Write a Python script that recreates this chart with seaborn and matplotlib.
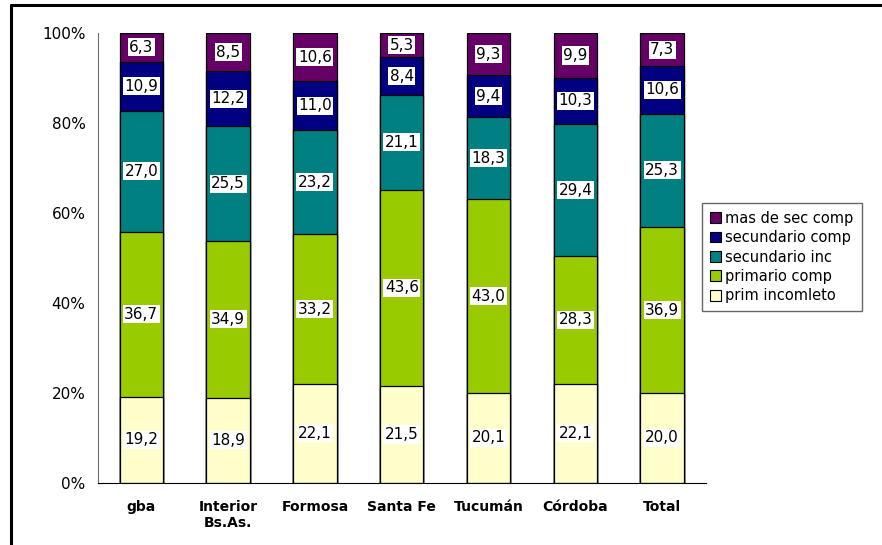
import matplotlib
matplotlib.use("Agg")
import matplotlib.pyplot as plt
import numpy as np
import pandas as pd
import seaborn as sns
from matplotlib.lines import Line2D
from matplotlib.patches import Patch

regions = ["gba", "Interior\nBs.As.", "Formosa", "Santa Fe", "Tucumán", "Córdoba", "Total"]
levels = ["prim incomleto", "primario comp", "secundario inc", "secundario comp", "mas de sec comp"]
colors = ["#FFFFCC", "#99CC00", "#008080", "#000080", "#660066"]

prim_incompleto = [19.2, 18.9, 22.1, 21.5, 20.1, 22.1, 20.0]
primario_comp = [36.7, 34.9, 33.2, 43.6, 43.0, 28.3, 36.9]
secundario_inc = [27.0, 25.5, 23.2, 21.1, 18.3, 29.4, 25.3]
secundario_comp = [10.9, 12.2, 11.0, 8.4, 9.4, 10.3, 10.6]
mas_de_sec = [6.3, 8.5, 10.6, 5.3, 9.3, 9.9, 7.3]

values = np.array([prim_incompleto, primario_comp, secundario_inc, secundario_comp, mas_de_sec])
shares = values / values.sum(axis=0) * 100
tops = shares.cumsum(axis=0)
bottoms = tops - shares

sns.set_style("white")
plt.rcParams["font.family"] = ["DejaVu Sans"]
plt.rcParams["text.color"] = "black"
plt.rcParams["xtick.color"] = "black"
plt.rcParams["ytick.color"] = "black"

fig = plt.figure(figsize=(8.82, 5.45), dpi=100)
ax = fig.add_axes([0.111, 0.114, 0.689, 0.825])

# draw from the top layer down so each lower segment covers the one above
for i in reversed(range(len(levels))):
    df = pd.DataFrame({"region": regions, "top": tops[i]})
    sns.barplot(data=df, x="region", y="top", color=colors[i], saturation=1,
                width=0.5, edgecolor="black", linewidth=0.9, ax=ax, errorbar=None)

for i in range(len(levels)):
    for j in range(len(regions)):
        ax.text(j, (bottoms[i, j] + tops[i, j]) / 2, f"{values[i, j]:.1f}".replace(".", ","),
                ha="center", va="center", fontsize=11, color="black",
                bbox=dict(boxstyle="square,pad=0.1", fc="white", ec="none"))

ax.set_xlim(-0.5, len(regions) - 0.5)
ax.set_ylim(0, 100)
ax.set_yticks(range(0, 101, 20))
ax.set_yticklabels([f"{v}%" for v in range(0, 101, 20)], fontsize=11)
ax.set_xticks(range(len(regions)))
ax.set_xticklabels(regions, fontsize=10, fontweight="bold")
ax.set_xticks(np.arange(-0.5, len(regions)), minor=True)
ax.tick_params(axis="x", which="major", length=0, pad=12)
ax.tick_params(axis="x", which="minor", direction="out", length=5, width=1, color="black")
ax.tick_params(axis="y", direction="out", length=5, width=1, color="#606060", pad=4)
ax.set_xlabel("")
ax.set_ylabel("")
sns.despine(ax=ax)
ax.spines["left"].set_color("#707070")
ax.spines["bottom"].set_color("black")

handles = [Patch(facecolor=colors[i], edgecolor="black", linewidth=0.8) for i in reversed(range(len(levels)))]
leg = fig.legend(handles, list(reversed(levels)), loc="upper left",
                 bbox_to_anchor=(0.796, 0.628), borderaxespad=0, frameon=True, fancybox=False,
                 edgecolor="#404040", fontsize=10.5, handlelength=0.75, handleheight=0.75,
                 handletextpad=0.3, labelspacing=0.3, borderpad=0.55)
leg.get_frame().set_linewidth(1)

fig.add_artist(Line2D([0.0125, 1.0], [0.9908, 0.9908], color="black", linewidth=2.2))
fig.add_artist(Line2D([0.0125, 0.0125], [0.0, 0.9908], color="black", linewidth=2.2))

fig.savefig("out.png", dpi=100, facecolor="white")
